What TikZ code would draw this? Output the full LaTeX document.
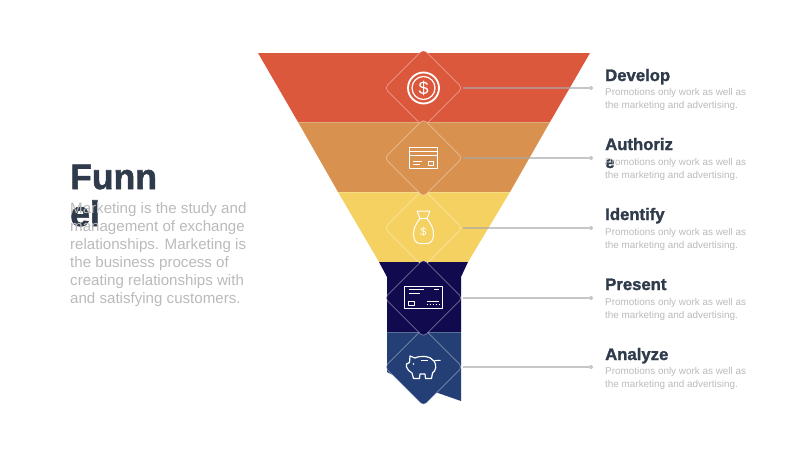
\documentclass[tikz,border=0pt]{standalone}
\usepackage{fontspec}
\setmainfont{Liberation Sans}
\newfontfamily\headfont[BoldFeatures={FakeBold=1.6}]{Liberation Sans}
\usetikzlibrary{shapes.geometric}
\definecolor{bandred}{HTML}{DC583C}
\definecolor{bandorange}{HTML}{D9914F}
\definecolor{bandyellow}{HTML}{F4D160}
\definecolor{bandnavy}{HTML}{120A4E}
\definecolor{bandblue}{HTML}{233F76}
\definecolor{headtext}{HTML}{2F3A4A}
\definecolor{bodytext}{HTML}{BABABA}
\definecolor{linkgrey}{HTML}{A8A8A8}
\begin{document}
\begin{tikzpicture}[x=1pt,y=-1pt]
    \tikzstyle{band}=[draw=white,draw opacity=.25,line width=.5pt]
    \tikzstyle{tile}=[diamond,draw=white,draw opacity=.4,line width=.7pt,minimum width=78pt,minimum height=78pt,inner sep=0pt,rounded corners=4pt]
    \tikzstyle{dot}=[circle,fill=linkgrey,fill opacity=.65,minimum size=4pt,inner sep=0pt]
    \tikzstyle{link}=[linkgrey,line width=1.4pt,opacity=.65]
    \tikzstyle{icon}=[white,line width=1pt,line join=round]
    \useasboundingbox (0,0) rectangle (800,450);
    % funnel
    \fill[bandred] (258,53) -- (590,53) -- (550,122) -- (298,122) -- cycle;
    \fill[bandorange] (298,122) -- (550,122) -- (510,192) -- (338,192) -- cycle;
    \fill[bandyellow] (338,192) -- (510,192) -- (468,262) -- (379,262) -- cycle;
    \fill[bandnavy] (379,262) -- (468,262) -- (461,277) -- (461,332) -- (387,332) -- (387,277) -- cycle;
    \fill[bandblue] (387,332) -- (461,332) -- (461,401) -- (438,393) -- (423,390) -- (387,372) -- cycle;
    \foreach \y/\xa/\xb in {122/298/550, 192/338/510, 332/387/461}
        \draw[band] (\xa,\y) -- (\xb,\y);
    % tiles, odd ones below even ones
    \foreach \num/\y/\col in {1/88/bandred, 3/228/bandyellow, 5/367/bandblue, 2/158/bandorange, 4/298/bandnavy}
        \node[tile,fill=\col] (D-\num) at (423.5,\y) {};
    % links
    \foreach \num/\y in {1/88, 2/158, 3/228, 4/298, 5/367} {
        \node[dot] (P-\num) at (591,\y) {};
        \draw[link] (D-\num) -- (P-\num);
    }
    % coin
    \draw[icon,line width=1.8pt] (423.5,88) circle (15.5);
    \draw[icon,line width=1.2pt] (423.5,88) circle (11.5);
    \node[white,font=\fontsize{18}{18}\selectfont] (coin) at (423.5,88) {\$};
    % card
    \draw[icon] (409,147) rectangle (437.5,168.5);
    \draw[icon] (409,151) -- (437.5,151);
    \draw[icon] (409,155) -- (437.5,155);
    \draw[icon] (413,161) -- (421.5,161);
    \draw[icon] (413,164.5) -- (420,164.5);
    \draw[icon] (428.5,161) rectangle (433.5,165);
    % money bag
    \draw[icon] (417,211) -- (430,211) -- (427,218.5) -- (420,218.5) -- cycle;
    \draw[icon] (420,218.5) .. controls (416,224) and (413.5,228) .. (413.5,234) .. controls (413.5,240) and (416,243.5) .. (420,243.5) -- (427,243.5) .. controls (431,243.5) and (433.5,240) .. (433.5,234) .. controls (433.5,228) and (431,224) .. (427,218.5);
    \node[white,font=\fontsize{11}{11}\selectfont] (bag) at (423.5,232) {\$};
    % dark card
    \draw[icon] (404.5,286) rectangle (442.5,308.5);
    \draw[icon] (408.5,289.5) -- (424,289.5);
    \draw[icon] (408.5,293.5) -- (420,293.5);
    \draw[icon] (434,289.5) -- (439,289.5);
    \draw[icon] (408.5,301) rectangle (414.5,305);
    \draw[icon] (426.5,301) -- (439,301);
    \draw[icon,dotted] (426.5,304.5) -- (439,304.5);
    % pig
    \draw[icon,line width=1.2pt] (406.5,367) -- (406.5,364) -- (409.5,362.5) -- (410,356) -- (415,358) .. controls (420,355.5) and (430,355.5) .. (434,361) .. controls (437,365) and (436,371) .. (432.5,373) -- (431.5,378.5) -- (425.5,378.5) -- (425,374) -- (420,374) -- (419.5,378.5) -- (413.5,378.5) -- (412,373) .. controls (409,372) and (408,369.5) .. cycle;
    \draw[icon] (434,361) .. controls (436,361.5) and (438,359) .. (440.5,360.5);
    \draw[icon] (421,360) -- (428,360);
    \fill[white] (413.5,364) circle (.9);
    % left text, base is the last line of a node
    \node[anchor=base west,inner sep=0pt,align=left,text=headtext,font=\fontsize{35.5}{37}\headfont\bfseries] (title) at (70,226) {Funn\\el};
    \node[anchor=base west,inner sep=0pt,align=left,text=bodytext,font=\fontsize{15.1}{17.9}\selectfont] (intro) at (70,303) {Marketing is the study and\\management of exchange\\relationships. Marketing is\\the business process of\\creating relationships with\\and satisfying customers.};
    % right text
    \foreach \num/\y/\hy/\lab in {1/88/81/Develop, 2/158/168/{Authoriz\\e}, 3/228/220/Identify, 4/298/290/Present, 5/367/360/Analyze} {
        \node[anchor=base west,inner sep=0pt,align=left,text=headtext,font=\fontsize{16.7}{18}\headfont\bfseries] (H-\num) at (605,\hy) {\lab};
        \node[anchor=base west,inner sep=0pt,align=left,text=bodytext,font=\fontsize{9.9}{12.2}\selectfont] (T-\num) at (605,\y+20) {Promotions only work as well as\\the marketing and advertising.};
    }
\end{tikzpicture}
\end{document}
